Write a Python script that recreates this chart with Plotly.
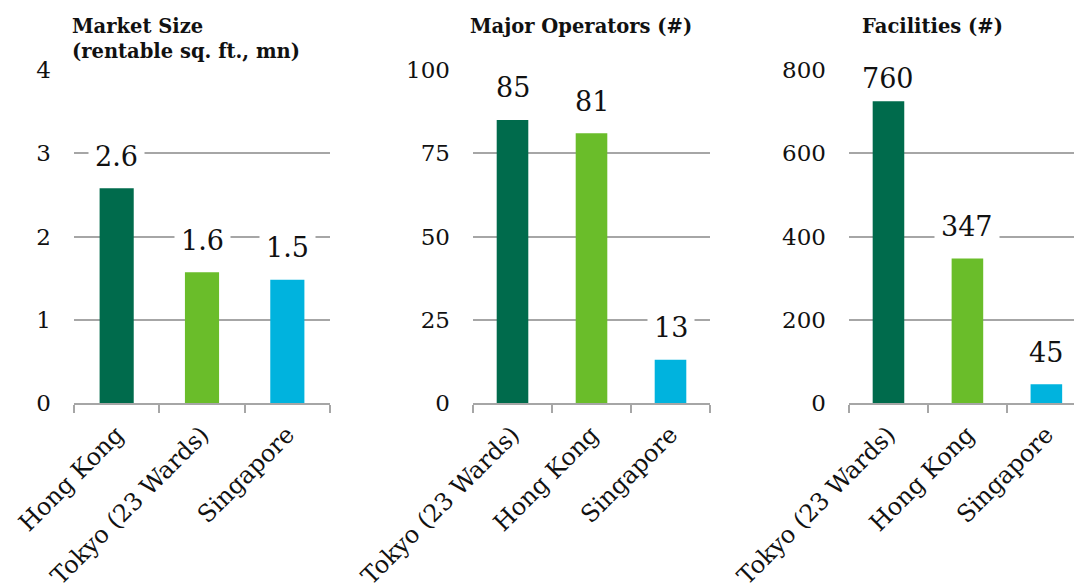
import plotly.graph_objects as go

# ---- data ----
size_cats = ["Hong Kong", "Tokyo (23 Wards)", "Singapore"]
size_vals = [2.58, 1.57, 1.48]
size_labels = ["2.6", "1.6", "1.5"]

ops_cats = ["Tokyo (23 Wards)", "Hong Kong", "Singapore"]
ops_vals = [85, 81, 13]
ops_labels = ["85", "81", "13"]

fac_cats = ["Tokyo (23 Wards)", "Hong Kong", "Singapore"]
fac_vals = [725, 347, 45]
fac_labels = ["760", "347", "45"]

titles = ["Market Size<br>(rentable sq. ft., mn)", "Major Operators (#)", "Facilities (#)"]
y_ticks = [[0, 1, 2, 3, 4], [0, 25, 50, 75, 100], [0, 200, 400, 600, 800]]

# ---- style ----
W, H = 1074, 584
colors = ["#006B4C", "#6ABD2A", "#00B3DE"]
FONT = "DejaVu Serif"
grid_col = "#A6A6A6"
top_px, bot_px = 70, 403
x_domains = [(74, 330), (473, 710), (849, 1074)]
x_ranges = [[-0.5, 2.5], [-0.5, 2.5], [-0.5, 2.35]]
label_shift = 32
top_label_shift = 23   # label that sits right under the top gridline

fig = go.Figure()
panels = [(size_cats, size_vals, size_labels), (ops_cats, ops_vals, ops_labels),
          (fac_cats, fac_vals, fac_labels)]

annotations = []
for i, (cats, vals, labs) in enumerate(panels):
    xa = "x" if i == 0 else f"x{i+1}"
    ya = "y" if i == 0 else f"y{i+1}"
    fig.add_trace(go.Bar(x=cats, y=vals, marker=dict(color=colors, line=dict(width=0)),
                         xaxis=xa, yaxis=ya, showlegend=False, hoverinfo="skip"))
    d0, d1 = x_domains[i]
    xkey = "xaxis" if i == 0 else f"xaxis{i+1}"
    ykey = "yaxis" if i == 0 else f"yaxis{i+1}"
    fig.layout[xkey] = dict(domain=[d0 / W, d1 / W], range=x_ranges[i], type="category",
                            anchor=ya, showline=True, linecolor=grid_col, linewidth=2,
                            ticks="outside", tickson="boundaries", ticklen=8, tickwidth=2,
                            tickcolor=grid_col, tickangle=-45, showgrid=False,
                            automargin=False, ticklabelstandoff=6,
                            tickfont=dict(family=FONT, size=24, color="#111"))
    fig.layout[ykey] = dict(domain=[0, 1], range=[0, y_ticks[i][-1]], tickvals=y_ticks[i],
                            anchor=xa, showline=False, zeroline=False, showgrid=True,
                            gridcolor=grid_col, gridwidth=2, ticks="", ticklabelstandoff=22,
                            automargin=False,
                            tickfont=dict(family=FONT, size=23, color="#111"))
    ymax = y_ticks[i][-1]
    for c, v, t in zip(cats, vals, labs):
        sh = top_label_shift if v > 0.88 * ymax else label_shift
        annotations.append(dict(x=c, y=v, xref=xa, yref=ya, text=t, showarrow=False,
                                yshift=sh, yanchor="middle", bgcolor="white", borderpad=6,
                                font=dict(family=FONT, size=27, color="#111")))

ph = bot_px - top_px
annotations.append(dict(x=70 / W, y=1 + 57 / ph, xref="paper", yref="paper",
                        text="<b>" + titles[0] + "</b>", showarrow=False, xanchor="left",
                        yanchor="top", align="left",
                        font=dict(family=FONT, size=19.5, color="#111")))
annotations.append(dict(x=581 / W, y=1 + 43 / ph, xref="paper", yref="paper",
                        text="<b>" + titles[1] + "</b>", showarrow=False, xanchor="center",
                        yanchor="middle", font=dict(family=FONT, size=19.5, color="#111")))
annotations.append(dict(x=932 / W, y=1 + 43 / ph, xref="paper", yref="paper",
                        text="<b>" + titles[2] + "</b>", showarrow=False, xanchor="center",
                        yanchor="middle", font=dict(family=FONT, size=19.5, color="#111")))

fig.update_layout(width=W, height=H, margin=dict(l=0, r=0, t=top_px, b=H - bot_px),
                  plot_bgcolor="white", paper_bgcolor="white", bargap=0.6,
                  annotations=annotations)

fig.write_html("out.html")
